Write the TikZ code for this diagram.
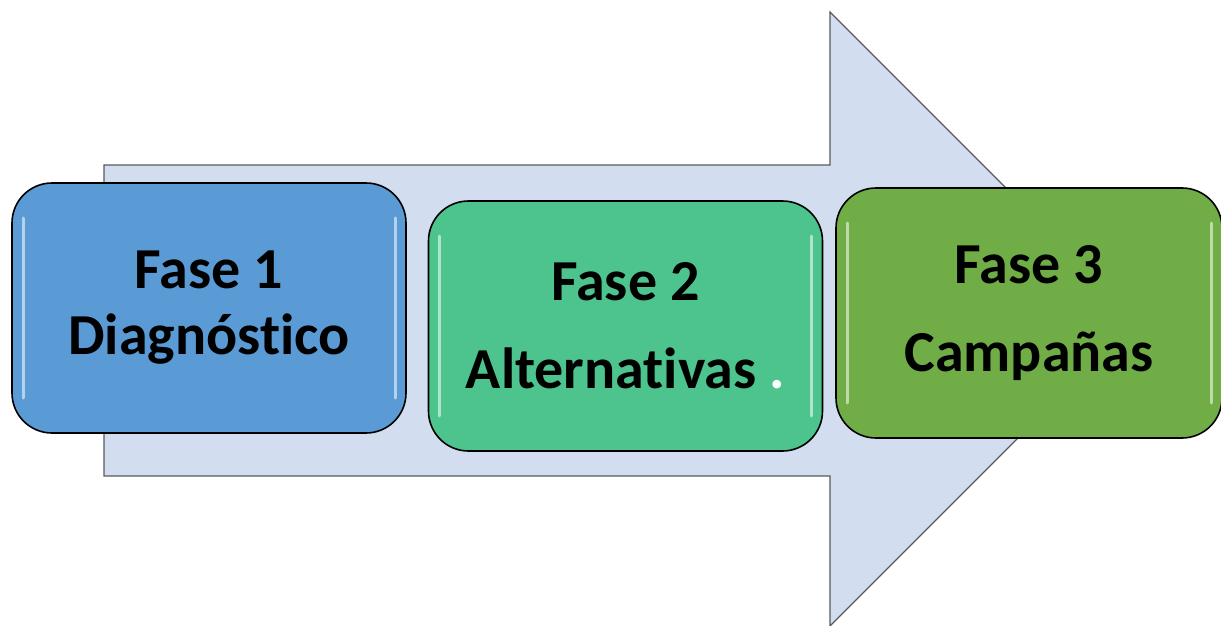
\documentclass[tikz,border=0pt]{standalone}
\usepackage{fontspec}
\setmainfont[Ligatures={NoCommon,NoRare,NoDiscretionary}]{Carlito}
\usetikzlibrary{positioning, calc}

\definecolor{arrowfill}{HTML}{D2DEEF}
\definecolor{arrowline}{HTML}{5A5A5A}
\definecolor{faseblue}{HTML}{5B9BD5}
\definecolor{fasegreen}{HTML}{4DC48D}
\definecolor{faseolive}{HTML}{70AD47}

\tikzset{
    fasebox/.style={draw=black, line width=1.6pt, rounded corners=40pt,
        minimum width=394pt, minimum height=250pt, align=center,
        font=\fontsize{58}{66}\selectfont\bfseries,
        path picture={
            \draw[white, opacity=0.55, line width=3pt, line cap=round]
                ($(path picture bounding box.north west)+(11pt,-35pt)$) --
                ($(path picture bounding box.south west)+(11pt,35pt)$);
            \draw[white, opacity=0.55, line width=3pt, line cap=round]
                ($(path picture bounding box.north east)+(-11pt,-35pt)$) --
                ($(path picture bounding box.south east)+(-11pt,35pt)$);
        }},
    bigarrow/.style={fill=arrowfill, draw=arrowline, line width=1.2pt}
}

\begin{document}
\begin{tikzpicture}[x=1pt, y=-1pt]
    \useasboundingbox (0,0) rectangle (1221,626);
    \clip (0,0) rectangle (1221,626);

    \coordinate (A) at (104,165);
    \coordinate (B) at (830,165);
    \coordinate (C) at (830,12);
    \coordinate (T) at (1137,319);
    \coordinate (D) at (830,626);
    \coordinate (E) at (830,476);
    \coordinate (F) at (104,476);

    \draw[bigarrow] (A) -- (B) -- (C) -- (T) -- (D) -- (E) -- (F) -- cycle;

    \node[fasebox, fill=faseblue] (f1) at (209,308) {Fase 1\\Diagnóstico};
    \node[fasebox, fill=fasegreen] (f2) at (625.5,326) {Fase 2\\[22pt]Alternativas {\color{white}.}};
    \node[fasebox, fill=faseolive, minimum width=386pt] (f3) at (1029,313) {Fase 3\\[22pt]Campañas};

\end{tikzpicture}
\end{document}
